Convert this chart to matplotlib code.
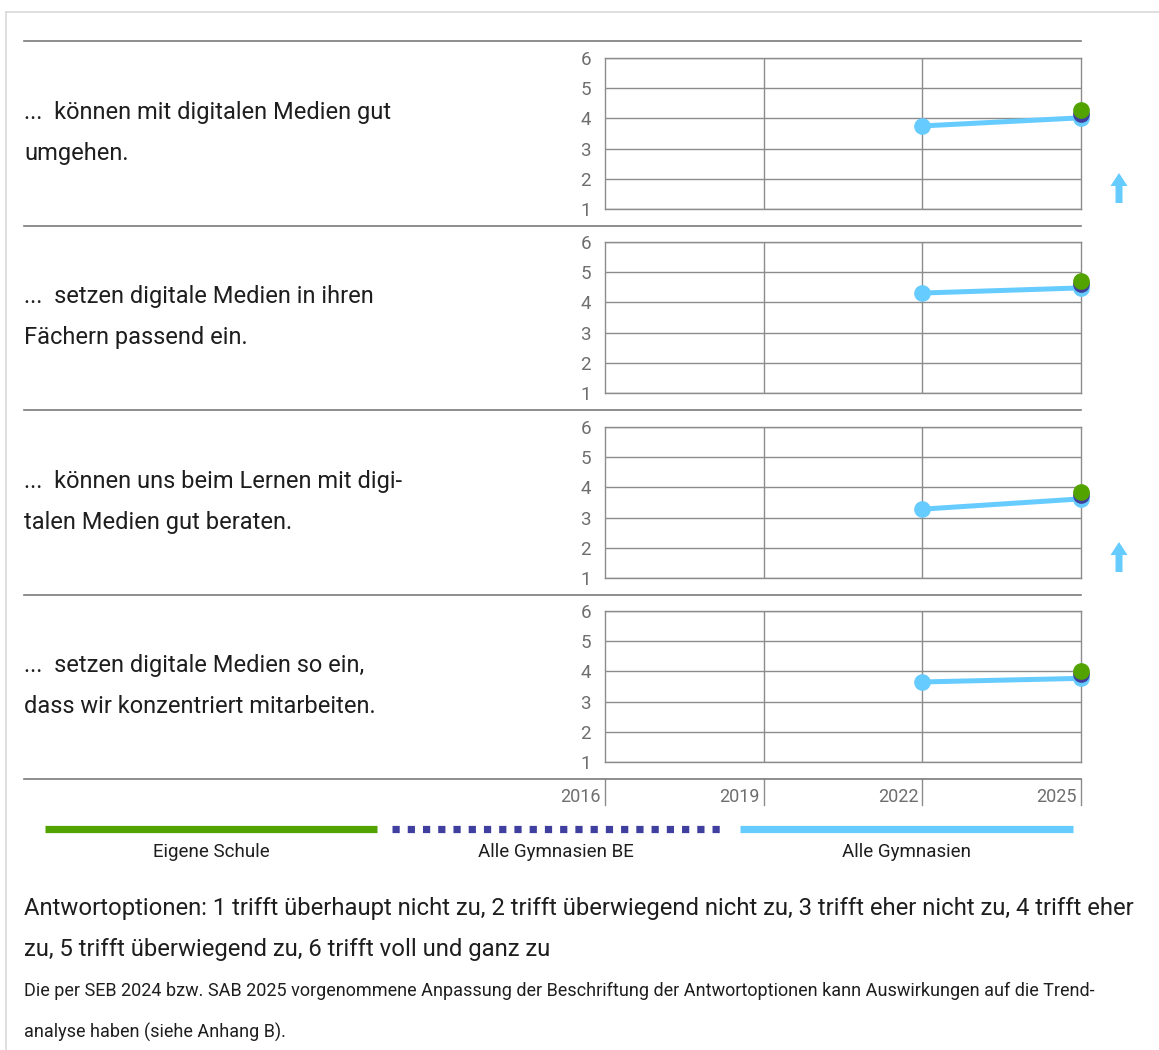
import numpy as np
import matplotlib
matplotlib.use("Agg")
import matplotlib.pyplot as plt
from matplotlib.transforms import Affine2D
from matplotlib.lines import Line2D
from matplotlib.patches import FancyArrow

plt.rcParams['font.family'] = ['Roboto', 'DejaVu Sans']

# data
items = ["...  können mit digitalen Medien gut\numgehen.",
         "...  setzen digitale Medien in ihren\nFächern passend ein.",
         "...  können uns beim Lernen mit digi-\ntalen Medien gut beraten.",
         "...  setzen digitale Medien so ein,\ndass wir konzentriert mitarbeiten."]
years = [2016, 2019, 2022, 2025]
alle_years = [2022, 2025]
alle = [[3.75, 4.02], [4.31, 4.48], [3.28, 3.62], [3.65, 3.77]]
be = [4.15, 4.60, 3.76, 3.90]          # only 2025
eigene = [4.28, 4.71, 3.85, 4.01]      # only 2025
trend_up = [True, False, True, False]
series_names = ["Eigene Schule", "Alle Gymnasien BE", "Alle Gymnasien"]

GREEN = '#52a300'
DBLUE = '#3f3fa0'
LBLUE = '#66ccff'
GRID = '#8c8c8c'
TICK = '#6e6e6e'
TXT = '#1e1e1e'

W, H = 1159, 1050
fig = plt.figure(figsize=(W / 100, H / 100), dpi=100)
# top-left pixel coordinates
px = Affine2D().scale(1 / 100, -1 / 100).translate(0, H / 100) + fig.dpi_scale_trans

def ax_at(x0, y0, x1, y1):
    return fig.add_axes([x0 / W, 1 - y1 / H, (x1 - x0) / W, (y1 - y0) / H])

# thin frame round the figure
fig.add_artist(Line2D([6, W], [12, 12], transform=px, color='#d9d9d9', lw=1.2))
fig.add_artist(Line2D([6, 6], [12, H], transform=px, color='#d9d9d9', lw=1.2))

panel_top = [58, 242, 427, 611]
seps = [41, 226, 410, 595, 779]
for y in seps:
    fig.add_artist(Line2D([24, 1081], [y, y], transform=px, color='#7a7a7a', lw=1.2))

for i in range(4):
    top = panel_top[i]
    ax = ax_at(605, top, 1081, top + 151)
    ax.set_xlim(2016, 2025)
    ax.set_ylim(1, 6)
    ax.set_xticks([2019, 2022])
    ax.set_xticklabels([])
    ax.set_yticks(range(1, 7))
    ax.tick_params(length=0, pad=10, labelsize=13.5, labelcolor=TICK)
    ax.grid(True, color=GRID, lw=1)
    for s in ax.spines.values():
        s.set_color(GRID)
        s.set_linewidth(1)
    ax.plot(alle_years, alle[i], color=LBLUE, lw=3.6, marker='o', ms=11,
            solid_capstyle='round', clip_on=False, zorder=3)
    ax.plot([2025], [be[i]], color=DBLUE, marker='o', ms=11, clip_on=False, zorder=4)
    ax.plot([2025], [eigene[i]], color=GREEN, marker='o', ms=11, clip_on=False, zorder=5)

    fig.text(24, top + 75, items[i], transform=px, fontsize=17, color=TXT,
             va='center', ha='left', linespacing=2.05)

    if trend_up[i]:
        fig.add_artist(FancyArrow(1119, top + 145, 0, -30, width=7, head_width=17,
                                  head_length=13, length_includes_head=True,
                                  transform=px, color=LBLUE, lw=0))

# year axis
yax = ax_at(605, 779, 1081, 805)
yax.set_xlim(2016, 2025)
yax.set_ylim(0, 1)
yax.axis('off')
for yr in years:
    yax.axvline(yr, color=GRID, lw=1, clip_on=False)
    yax.annotate(str(yr), (yr, 0.3), xytext=(-3, 0), textcoords='offset points',
                 ha='right', va='center', fontsize=13, color=TICK)

# legend
leg_x = [(45, 377), (392, 720), (740, 1073)]
styles = [dict(color=GREEN, ls='-'), dict(color=DBLUE, ls=(0, (1, 1.11))),
          dict(color=LBLUE, ls='-')]
for (x0, x1), st, name in zip(leg_x, styles, series_names):
    fig.add_artist(Line2D([x0, x1], [829, 829], transform=px, lw=5.2,
                          solid_capstyle='butt', **st))
    fig.text((x0 + x1) / 2, 852, name, transform=px, ha='center', va='center',
             fontsize=13.5, color=TXT)

fig.text(24, 929, "Antwortoptionen: 1 trifft überhaupt nicht zu, 2 trifft überwiegend nicht zu, "
         "3 trifft eher nicht zu, 4 trifft eher\nzu, 5 trifft überwiegend zu, 6 trifft voll und ganz zu",
         transform=px, ha='left', va='center', fontsize=17.2, color=TXT, linespacing=1.97)
fig.text(24, 1012, "Die per SEB 2024 bzw. SAB 2025 vorgenommene Anpassung der Beschriftung der "
         "Antwortoptionen kann Auswirkungen auf die Trend-\nanalyse haben (siehe Anhang B).",
         transform=px, ha='left', va='center', fontsize=13, color=TXT, linespacing=2.5)

fig.savefig("out.png", dpi=100)
